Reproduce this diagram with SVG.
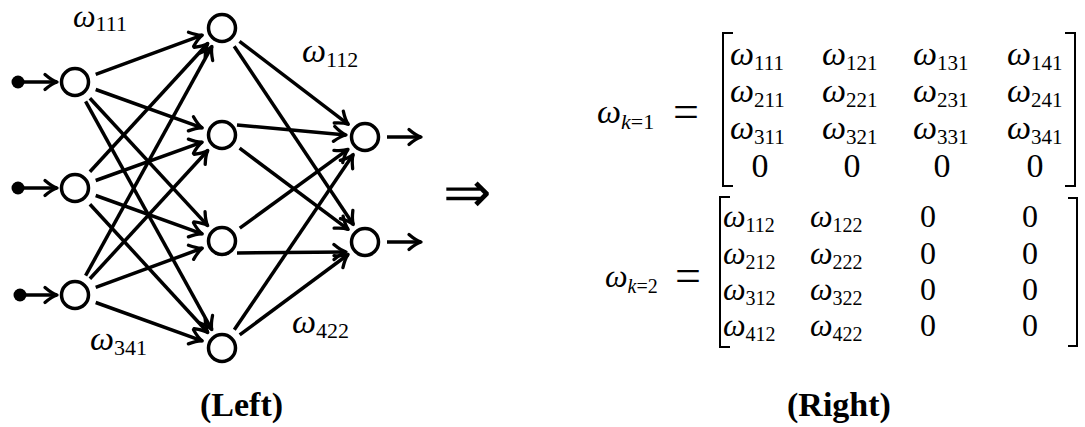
<svg xmlns="http://www.w3.org/2000/svg" width="1085" height="427" viewBox="0 0 1085 427">
<style>
.n{fill:#fff;stroke:#000;stroke-width:3.5}
.e{stroke:#000;stroke-width:3.5;fill:none;marker-end:url(#ah)}
text{font-family:"Liberation Serif","Times New Roman",serif;fill:#000}
.om{font-style:italic}
.br{fill:none;stroke:#000;stroke-width:2}
.cap{font-weight:bold;font-size:34px}
</style>
<defs>
<marker id="ah" markerUnits="userSpaceOnUse" viewBox="-14 -10 16 20" refX="0" refY="0" markerWidth="16" markerHeight="20" orient="auto" overflow="visible">
<path d="M-12,-7.5 Q-5,-1.5 0,0 Q-5,1.5 -12,7.5" fill="none" stroke="#000" stroke-width="3.3" stroke-linecap="round" stroke-linejoin="round"/>
</marker>
</defs>
<rect width="1085" height="427" fill="#fff"/>
<g id="connectors">
<line class="e" x1="18" y1="82" x2="57" y2="82"/>
<line class="e" x1="18" y1="188" x2="57" y2="188"/>
<line class="e" x1="20" y1="295" x2="57" y2="295"/>
<line class="e" x1="95.7" y1="74.4" x2="202.3" y2="35.2"/>
<line class="e" x1="95.7" y1="89.5" x2="202.2" y2="127.9"/>
<line class="e" x1="89.9" y1="98.2" x2="207.7" y2="225.6"/>
<line class="e" x1="85.6" y1="101.3" x2="211.8" y2="329.6"/>
<line class="e" x1="89.9" y1="171.8" x2="207.8" y2="43.5"/>
<line class="e" x1="95.7" y1="180.5" x2="202.2" y2="142.1"/>
<line class="e" x1="95.7" y1="195.5" x2="202.2" y2="233.9"/>
<line class="e" x1="89.9" y1="204.2" x2="207.8" y2="332.5"/>
<line class="e" x1="85.6" y1="275.7" x2="211.9" y2="46.4"/>
<line class="e" x1="89.9" y1="278.8" x2="207.8" y2="150.5"/>
<line class="e" x1="95.7" y1="287.4" x2="202.3" y2="248.2"/>
<line class="e" x1="95.7" y1="302.5" x2="202.2" y2="340.9"/>
<line class="e" x1="239.5" y1="41.3" x2="348.3" y2="124.3"/>
<line class="e" x1="234.2" y1="46.3" x2="353.3" y2="224.5"/>
<line class="e" x1="237" y1="125" x2="346" y2="135"/>
<line class="e" x1="239.6" y1="148.2" x2="348.2" y2="229.4"/>
<line class="e" x1="239.8" y1="228.1" x2="348" y2="149.4"/>
<line class="e" x1="237" y1="253" x2="346" y2="252"/>
<line class="e" x1="234.3" y1="329.8" x2="353.2" y2="154.6"/>
<line class="e" x1="239.7" y1="334.9" x2="348.1" y2="254.5"/>
<line class="e" x1="387" y1="137" x2="421" y2="137"/>
<line class="e" x1="387" y1="242" x2="421" y2="242"/>
</g>
<g id="inputs">
<circle cx="18" cy="82" r="6.5"/>
<circle cx="18" cy="188" r="6.5"/>
<circle cx="20" cy="295" r="6.5"/>
</g>
<g id="I1"><circle class="n" cx="75" cy="82" r="13.5"/></g>
<g id="I2"><circle class="n" cx="75" cy="188" r="13.5"/></g>
<g id="I3"><circle class="n" cx="75" cy="295" r="13.5"/></g>
<g id="H1"><circle class="n" cx="222" cy="28" r="13.5"/></g>
<g id="H2"><circle class="n" cx="222" cy="135" r="13.5"/></g>
<g id="H3"><circle class="n" cx="222" cy="241" r="13.5"/></g>
<g id="H4"><circle class="n" cx="222" cy="348" r="13.5"/></g>
<g id="O1"><circle class="n" cx="365" cy="137" r="13.5"/></g>
<g id="O2"><circle class="n" cx="365" cy="242" r="13.5"/></g>
<g id="labels">
<text x="73" y="27" font-size="32"><tspan class="om">ω</tspan><tspan font-size="22" dy="4">111</tspan></text>
<text x="302" y="62" font-size="34"><tspan class="om">ω</tspan><tspan font-size="22" dy="5">112</tspan></text>
<text x="90" y="350" font-size="34"><tspan class="om">ω</tspan><tspan font-size="22" dy="5">341</tspan></text>
<text x="292" y="333" font-size="34"><tspan class="om">ω</tspan><tspan font-size="22" dy="5">422</tspan></text>
</g>
<g id="implies">
<text x="443" y="212" style="font-family:'DejaVu Sans',sans-serif;font-weight:200" font-size="58">⇒</text>
</g>
<g id="matrix1">
<text x="597" y="123" font-size="34"><tspan class="om">ω</tspan><tspan font-size="22" dy="6"><tspan class="om">k</tspan>=1</tspan></text>
<text x="673" y="127" font-size="46">=</text>
<path class="br" d="M733,33 H723 V186 H733"/>
<path class="br" d="M1065,33 H1075 V186 H1065"/>
<g font-size="34">
<text x="730" y="65"><tspan class="om">ω</tspan><tspan font-size="21" dy="5">111</tspan></text>
<text x="822" y="65"><tspan class="om">ω</tspan><tspan font-size="21" dy="5">121</tspan></text>
<text x="913" y="65"><tspan class="om">ω</tspan><tspan font-size="21" dy="5">131</tspan></text>
<text x="1007" y="65"><tspan class="om">ω</tspan><tspan font-size="21" dy="5">141</tspan></text>
<text x="730" y="102"><tspan class="om">ω</tspan><tspan font-size="21" dy="5">211</tspan></text>
<text x="822" y="102"><tspan class="om">ω</tspan><tspan font-size="21" dy="5">221</tspan></text>
<text x="913" y="102"><tspan class="om">ω</tspan><tspan font-size="21" dy="5">231</tspan></text>
<text x="1007" y="102"><tspan class="om">ω</tspan><tspan font-size="21" dy="5">241</tspan></text>
<text x="730" y="139"><tspan class="om">ω</tspan><tspan font-size="21" dy="5">311</tspan></text>
<text x="822" y="139"><tspan class="om">ω</tspan><tspan font-size="21" dy="5">321</tspan></text>
<text x="913" y="139"><tspan class="om">ω</tspan><tspan font-size="21" dy="5">331</tspan></text>
<text x="1007" y="139"><tspan class="om">ω</tspan><tspan font-size="21" dy="5">341</tspan></text>
<g text-anchor="middle">
<text x="760" y="177">0</text>
<text x="852" y="177">0</text>
<text x="942" y="177">0</text>
<text x="1035" y="177">0</text>
</g>
</g>
</g>
<g id="matrix2">
<text x="605" y="287" font-size="32"><tspan class="om">ω</tspan><tspan font-size="20" dy="6"><tspan class="om">k</tspan>=2</tspan></text>
<text x="675" y="291" font-size="46">=</text>
<path class="br" d="M730,197 H720 V347 H730"/>
<path class="br" d="M1068,198 H1077 V346 H1068"/>
<g font-size="32">
<text x="723" y="227"><tspan class="om">ω</tspan><tspan font-size="20" dy="5">112</tspan></text>
<text x="810" y="227"><tspan class="om">ω</tspan><tspan font-size="20" dy="5">122</tspan></text>
<text x="723" y="264"><tspan class="om">ω</tspan><tspan font-size="20" dy="5">212</tspan></text>
<text x="810" y="264"><tspan class="om">ω</tspan><tspan font-size="20" dy="5">222</tspan></text>
<text x="723" y="300"><tspan class="om">ω</tspan><tspan font-size="20" dy="5">312</tspan></text>
<text x="810" y="300"><tspan class="om">ω</tspan><tspan font-size="20" dy="5">322</tspan></text>
<text x="723" y="336"><tspan class="om">ω</tspan><tspan font-size="20" dy="5">412</tspan></text>
<text x="810" y="336"><tspan class="om">ω</tspan><tspan font-size="20" dy="5">422</tspan></text>
<g text-anchor="middle">
<text x="928" y="227">0</text><text x="1030" y="227">0</text>
<text x="928" y="264">0</text><text x="1030" y="264">0</text>
<text x="928" y="300">0</text><text x="1030" y="300">0</text>
<text x="928" y="336">0</text><text x="1030" y="336">0</text>
</g>
</g>
</g>
<g id="captions">
<text class="cap" x="200" y="416">(Left)</text>
<text class="cap" x="787" y="416">(Right)</text>
</g>
</svg>
